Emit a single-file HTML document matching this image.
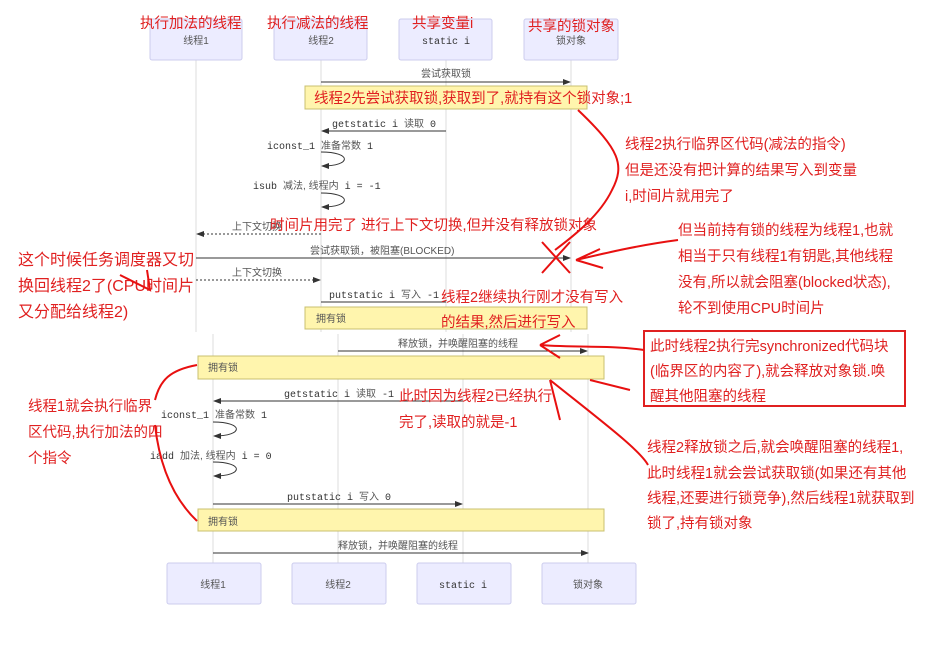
<!DOCTYPE html>
<html><head><meta charset="utf-8"><style>
body{margin:0;background:#fff;}
svg{display:block;}
.g{font-family:"Liberation Sans","Noto Sans CJK SC",sans-serif;font-size:10px;fill:#555;}
.m{font-family:"Liberation Mono","Noto Sans CJK SC",monospace;font-size:10px;fill:#333;}
.r{font-family:"Liberation Sans","Noto Sans CJK SC",sans-serif;font-size:14.5px;fill:#e02020;}
.box{fill:#ececff;stroke:#ccccee;stroke-width:1;}
.ll{stroke:#ddd;stroke-width:1;}
.note{fill:#fff5ad;stroke:#c8c070;stroke-width:1;}
.a{stroke:#333;stroke-width:1;fill:none;}
.d{stroke:#333;stroke-width:1;fill:none;stroke-dasharray:2,2;}
.rl{stroke:#e81010;stroke-width:2;fill:none;}
</style></head><body>
<svg width="937" height="651" viewBox="0 0 937 651" xmlns="http://www.w3.org/2000/svg">
<defs><marker id="ar" markerWidth="8" markerHeight="6" refX="7" refY="3" orient="auto"><path d="M0,0L8,3L0,6z" fill="#333"/></marker></defs>
<line class="ll" x1="196" y1="60" x2="196" y2="332"/>
<line class="ll" x1="321" y1="60" x2="321" y2="332"/>
<line class="ll" x1="446" y1="60" x2="446" y2="332"/>
<line class="ll" x1="571" y1="60" x2="571" y2="332"/>
<line class="ll" x1="213" y1="334" x2="213" y2="563"/>
<line class="ll" x1="338" y1="334" x2="338" y2="563"/>
<line class="ll" x1="463" y1="334" x2="463" y2="563"/>
<line class="ll" x1="588" y1="334" x2="588" y2="563"/>
<rect class="box" x="150" y="19" width="92" height="41" rx="2"/>
<rect class="box" x="274" y="19" width="93" height="41" rx="2"/>
<rect class="box" x="399" y="19" width="93" height="41" rx="2"/>
<rect class="box" x="524" y="19" width="94" height="41" rx="2"/>
<text class="g" x="196" y="44" text-anchor="middle">线程1</text>
<text class="g" x="321" y="44" text-anchor="middle">线程2</text>
<text class="m" x="446" y="44" text-anchor="middle">static i</text>
<text class="g" x="571" y="44" text-anchor="middle">锁对象</text>
<rect class="box" x="167" y="563" width="94" height="41" rx="2"/>
<rect class="box" x="292" y="563" width="94" height="41" rx="2"/>
<rect class="box" x="417" y="563" width="94" height="41" rx="2"/>
<rect class="box" x="542" y="563" width="94" height="41" rx="2"/>
<text class="g" x="213" y="588" text-anchor="middle">线程1</text>
<text class="g" x="338" y="588" text-anchor="middle">线程2</text>
<text class="m" x="463" y="588" text-anchor="middle">static i</text>
<text class="g" x="588" y="588" text-anchor="middle">锁对象</text>
<text class="g" x="446" y="77" text-anchor="middle">尝试获取锁</text>
<line class="a" x1="321" y1="82" x2="570" y2="82" marker-end="url(#ar)"/>
<rect class="note" x="305" y="86" width="282" height="23"/>
<text class="m" x="332" y="127">getstatic i <tspan class="g">读取</tspan> 0</text>
<line class="a" x1="446" y1="131" x2="322" y2="131" marker-end="url(#ar)"/>
<text class="m" x="267" y="149">iconst_1 <tspan class="g">准备常数</tspan> 1</text>
<path class="a" d="M321,152 C352,152 352,166 322,166" marker-end="url(#ar)"/>
<text class="m" x="253" y="189">isub <tspan class="g">减法, 线程内</tspan> i = -1</text>
<path class="a" d="M321,193 C352,193 352,207 322,207" marker-end="url(#ar)"/>
<text class="g" x="232" y="230">上下文切换</text>
<line class="d" x1="321" y1="234" x2="197" y2="234" marker-end="url(#ar)"/>
<text class="g" x="310" y="254">尝试获取锁，被阻塞(BLOCKED)</text>
<line class="a" x1="196" y1="258" x2="570" y2="258" marker-end="url(#ar)"/>
<text class="g" x="232" y="276">上下文切换</text>
<line class="d" x1="196" y1="280" x2="320" y2="280" marker-end="url(#ar)"/>
<text class="m" x="329" y="298">putstatic i <tspan class="g">写入</tspan> -1</text>
<line class="a" x1="321" y1="302" x2="446" y2="302"/>
<rect class="note" x="305" y="307" width="282" height="22"/>
<text class="g" x="316" y="322">拥有锁</text>
<text class="g" x="398" y="347">释放锁，并唤醒阻塞的线程</text>
<line class="a" x1="338" y1="351" x2="587" y2="351" marker-end="url(#ar)"/>
<rect class="note" x="198" y="356" width="406" height="23"/>
<text class="g" x="208" y="371">拥有锁</text>
<text class="m" x="284" y="397">getstatic i <tspan class="g">读取</tspan> -1</text>
<line class="a" x1="463" y1="401" x2="214" y2="401" marker-end="url(#ar)"/>
<text class="m" x="161" y="418">iconst_1 <tspan class="g">准备常数</tspan> 1</text>
<path class="a" d="M213,422 C244,422 244,436 214,436" marker-end="url(#ar)"/>
<text class="m" x="150" y="459">iadd <tspan class="g">加法, 线程内</tspan> i = 0</text>
<path class="a" d="M213,462 C244,462 244,476 214,476" marker-end="url(#ar)"/>
<text class="m" x="287" y="500">putstatic i <tspan class="g">写入</tspan> 0</text>
<line class="a" x1="213" y1="504" x2="462" y2="504" marker-end="url(#ar)"/>
<rect class="note" x="198" y="509" width="406" height="22"/>
<text class="g" x="208" y="525">拥有锁</text>
<text class="g" x="338" y="549">释放锁，并唤醒阻塞的线程</text>
<line class="a" x1="213" y1="553" x2="588" y2="553" marker-end="url(#ar)"/>
<text class="r" x="140" y="28">执行加法的线程</text>
<text class="r" x="267" y="28">执行减法的线程</text>
<text class="r" x="412" y="28">共享变量i</text>
<text class="r" x="528" y="31">共享的锁对象</text>
<text class="r" x="314" y="103">线程2先尝试获取锁,获取到了,就持有这个锁对象;1</text>
<text class="r" x="270" y="230">时间片用完了 进行上下文切换,但并没有释放锁对象</text>
<text class="r" x="441" y="302">线程2继续执行刚才没有写入</text>
<text class="r" x="441" y="327">的结果,然后进行写入</text>
<text class="r" x="399" y="401">此时因为线程2已经执行</text>
<text class="r" x="399" y="427">完了,读取的就是-1</text>
<text class="r" x="625" y="149">线程2执行临界区代码(减法的指令)</text>
<text class="r" x="625" y="175">但是还没有把计算的结果写入到变量</text>
<text class="r" x="625" y="201">i,时间片就用完了</text>
<text class="r" x="678" y="235">但当前持有锁的线程为线程1,也就</text>
<text class="r" x="678" y="261">相当于只有线程1有钥匙,其他线程</text>
<text class="r" x="678" y="287">没有,所以就会阻塞(blocked状态),</text>
<text class="r" x="678" y="313">轮不到使用CPU时间片</text>
<rect x="644" y="331" width="261" height="75" fill="none" stroke="#e02020" stroke-width="2"/>
<text class="r" x="650" y="351">此时线程2执行完synchronized代码块</text>
<text class="r" x="650" y="376">(临界区的内容了),就会释放对象锁.唤</text>
<text class="r" x="650" y="401">醒其他阻塞的线程</text>
<text class="r" x="647" y="452">线程2释放锁之后,就会唤醒阻塞的线程1,</text>
<text class="r" x="647" y="478">此时线程1就会尝试获取锁(如果还有其他</text>
<text class="r" x="647" y="503">线程,还要进行锁竞争),然后线程1就获取到</text>
<text class="r" x="647" y="528">锁了,持有锁对象</text>
<text class="r" x="18" y="265" style="font-size:16px">这个时候任务调度器又切</text>
<text class="r" x="18" y="291" style="font-size:16px">换回线程2了(CPU时间片</text>
<text class="r" x="18" y="317" style="font-size:16px">又分配给线程2)</text>
<text class="r" x="28" y="411">线程1就会执行临界</text>
<text class="r" x="28" y="437">区代码,执行加法的四</text>
<text class="r" x="28" y="463">个指令</text>
<path class="rl" d="M578,110 C620,150 625,165 612,190 C600,215 575,235 555,250"/>
<path class="rl" d="M542,242 L570,273 M570,242 L542,273"/>
<path class="rl" d="M678,240 C640,245 610,252 576,260 M576,260 L600,249 M576,260 L603,268"/>
<path class="rl" d="M120,275 L150,290 L147,270"/>
<path class="rl" d="M644,350 C610,345 580,348 540,345 M540,345 L560,335 M540,345 L560,358"/>
<path class="rl" d="M197,365 C170,370 160,380 155,400 M155,425 C160,470 175,500 197,521"/>
<path class="rl" d="M590,380 L630,390 M550,380 L560,420 M550,380 C600,420 640,450 648,465"/>
</svg>
</body></html>
